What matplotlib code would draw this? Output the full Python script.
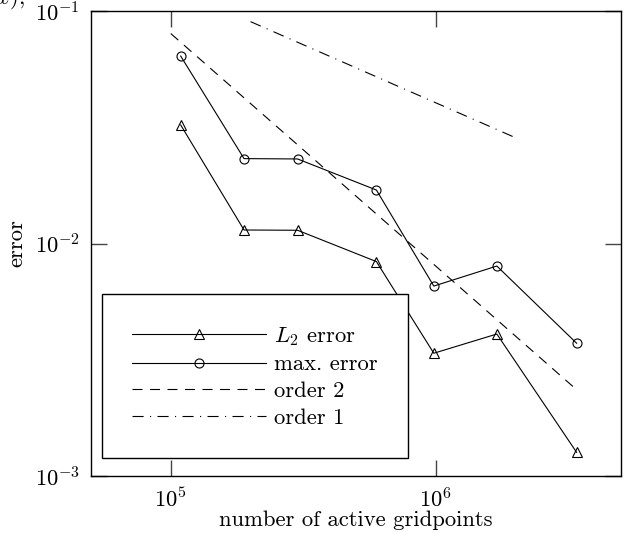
import matplotlib
matplotlib.use('Agg')
from matplotlib import pyplot as plt
import matplotlib.ticker as ticker

# data (log-log convergence plot)
gridpoints = [1.09e5, 1.89e5, 3.01e5, 5.97e5, 9.83e5, 1.70e6, 3.40e6]
l2_error = [0.03235, 0.01143, 0.0114, 0.00836, 0.003373, 0.00408, 0.001264]
max_error = [0.0640, 0.02318, 0.0231, 0.01698, 0.00656, 0.00800, 0.003725]

order2_x = [1e5, 3.4e6]
order2_y = [0.08, 0.00235]
order1_x = [2e5, 2e6]
order1_y = [0.09, 0.0285]

x_ticks = [1e5, 1e6]
y_ticks = [1e-3, 1e-2, 1e-1]

plt.rcParams['font.family'] = ['cmr10', 'DejaVu Serif']
plt.rcParams['mathtext.fontset'] = 'cm'
plt.rcParams['axes.formatter.use_mathtext'] = True
plt.rcParams['font.size'] = 16.3
plt.rcParams['lines.scale_dashes'] = False

fig = plt.figure(figsize=(6.27, 5.33), dpi=100)
ax = fig.add_axes([91 / 627, 57 / 533, 530 / 627, 465 / 533])

lw = 0.8
ax.plot(gridpoints, l2_error, color='black', lw=lw, marker='^', ms=6.5,
        mfc='none', mec='black', mew=0.8, label=r'$L_2$ error')
ax.plot(gridpoints, max_error, color='black', lw=lw, marker='o', ms=6.5,
        mfc='none', mec='black', mew=0.8, label='max. error')
ax.plot(order2_x, order2_y, color='black', lw=lw, dashes=(7.2, 5.4),
        label='order 2')
ax.plot(order1_x, order1_y, color='black', lw=lw, dashes=(8, 4.6, 0.8, 4.6),
        label='order 1')

ax.set_xscale('log')
ax.set_yscale('log')
ax.set_xlim(5e4, 5e6)
ax.set_ylim(1e-3, 1e-1)
ax.set_xticks(x_ticks)
ax.set_yticks(y_ticks)
ax.xaxis.set_minor_locator(ticker.NullLocator())
ax.yaxis.set_minor_locator(ticker.NullLocator())
ax.tick_params(which='major', direction='in', length=11.5, width=1.0,
               color='#444444', top=True, right=True, pad=8)

for sp in ax.spines.values():
    sp.set_linewidth(1.0)

ax.set_xlabel('number of active gridpoints', labelpad=-1)
ax.set_ylabel('error', labelpad=6)

leg = ax.legend(loc='lower left', bbox_to_anchor=(0.02, 0.038),
                borderaxespad=0, fancybox=False, framealpha=1,
                edgecolor='black', handlelength=5.9, handletextpad=0.35,
                labelspacing=0.3, borderpad=1.35)
leg.get_frame().set_linewidth(1.0)

# clipped fragment of a label above the figure
fig.text(25 / 627, 1 - 4 / 533, r'$(x),$', fontsize=16.3, va='baseline',
         ha='right')

fig.savefig('out.png', dpi=100)
